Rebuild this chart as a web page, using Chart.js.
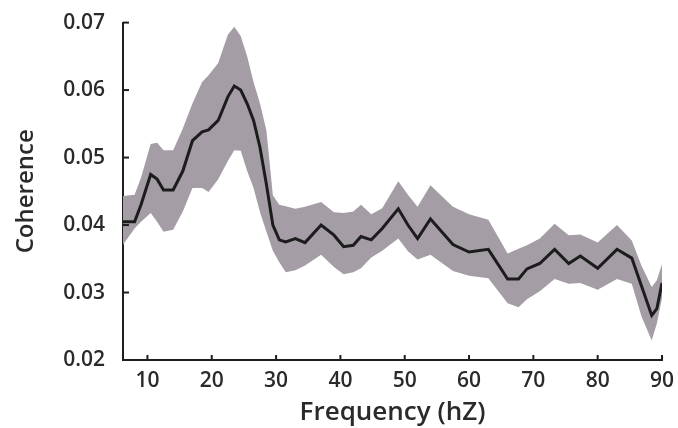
<!DOCTYPE html>
<html>
<head>
<meta charset="utf-8">
<script src="https://cdn.jsdelivr.net/npm/chart.js@4.4.1/dist/chart.umd.min.js"></script>
<style>
  html, body { margin: 0; padding: 0; background: #fff; }
  #wrap { width: 678px; height: 428px; position: relative; }
</style>
</head>
<body>
<div id="wrap"><canvas id="grafico"></canvas></div>
<script>
const frequencias = [6, 8, 9, 10.5, 11.5, 12.5, 14, 15.5, 17, 18.5, 19.5, 21, 22.5, 23.5, 24.5, 25.5, 26.5, 27.5, 28.5, 29.5,
    30.5, 31.5, 33, 34.5, 37, 39, 40.5, 42, 43.2, 44.8, 46.5, 49, 50.5, 52, 54, 57.5, 60, 63, 66, 67.7,
    69, 71, 73.3, 75.5, 77.3, 80, 83, 85.3, 86.8, 88.4, 89.2, 90];

const media = [.0405, .0405, .0430, .0475, .0468, .0452, .0452, .0480, .0525, .0538, .0541, .0555, .0590, .0606, .0600, .0580, .0555, .0515, .0460, .0400,
    .0378, .0375, .0380, .0374, .0400, .0385, .0368, .0370, .0383, .0378, .0395, .0424, .0400, .0380, .0409, .0371, .0360, .0364, .0320, .0320,
    .0335, .0343, .0364, .0343, .0354, .0336, .0364, .0351, .0310, .0266, .0276, .0314];

const superior = [.0443, .0445, .0470, .0520, .0522, .0511, .0511, .0543, .0580, .0612, .0622, .0640, .0682, .0694, .0680, .0650, .0612, .0580, .0540, .0444,
    .0430, .0428, .0424, .0427, .0434, .0419, .0418, .0420, .0430, .0416, .0425, .0465, .0445, .0427, .0459, .0427, .0416, .0408, .0358, .0365,
    .0370, .0380, .0402, .0385, .0386, .0374, .0400, .0377, .0340, .0308, .0318, .0342];

const inferior = [.0368, .0395, .0405, .0418, .0405, .0390, .0393, .0420, .0455, .0455, .0449, .0468, .0495, .0511, .0510, .0480, .0455, .0419, .0390, .0362,
    .0345, .0330, .0333, .0340, .0356, .0338, .0327, .0330, .0336, .0352, .0362, .0380, .0361, .0349, .0356, .0332, .0325, .0321, .0284, .0278,
    .0290, .0302, .0320, .0313, .0314, .0304, .0320, .0313, .0265, .0229, .0254, .0292];

const ticksX = [10, 20, 30, 40, 50, 60, 70, 80, 90];
const ticksY = [0.02, 0.03, 0.04, 0.05, 0.06, 0.07];

const pontos = (valores) => frequencias.map((f, i) => ({ x: f, y: valores[i] }));

const corTexto = "#2a2a2a";

// ticks pointing into the plot, like the original figure
const ticksInternos = {
    id: "ticksInternos",
    afterDraw(chart) {
        const ctx = chart.ctx;
        const sx = chart.scales.x;
        const sy = chart.scales.y;
        ctx.save();
        ctx.strokeStyle = "#1e1e1e";
        ctx.lineWidth = 2;
        for (const t of ticksX) {
            const px = sx.getPixelForValue(t);
            ctx.beginPath();
            ctx.moveTo(px, sy.bottom);
            ctx.lineTo(px, sy.bottom - 5);
            ctx.stroke();
        }
        for (const t of ticksY) {
            const py = sy.getPixelForValue(t);
            ctx.beginPath();
            ctx.moveTo(sx.left, py);
            ctx.lineTo(sx.left + 6, py);
            ctx.stroke();
        }
        ctx.restore();
    }
};

new Chart(document.getElementById("grafico"), {
    type: "line",
    data: {
        datasets: [
            {
                label: "superior",
                data: pontos(superior),
                borderWidth: 0,
                pointRadius: 0,
                backgroundColor: "rgb(164, 157, 166)",
                fill: "+1",
                order: 2,
            },
            {
                label: "inferior",
                data: pontos(inferior),
                borderWidth: 0,
                pointRadius: 0,
                fill: false,
                order: 2,
            },
            {
                label: "Coherence",
                data: pontos(media),
                borderColor: "#1c1c1c",
                borderWidth: 3,
                pointRadius: 0,
                fill: false,
                tension: 0,
                order: 1,
            },
        ],
    },
    options: {
        responsive: true,
        maintainAspectRatio: false,
        animation: false,
        layout: { padding: { top: 18, right: 16, left: 12, bottom: 0 } },
        plugins: { legend: { display: false }, tooltip: { enabled: false } },
        scales: {
            x: {
                type: "linear",
                min: 6.2,
                max: 90,
                afterBuildTicks: (scale) => { scale.ticks = ticksX.map((v) => ({ value: v })); },
                afterFit: (scale) => { scale.height = 68; },
                grid: { display: false, drawOnChartArea: false },
                border: { display: true, color: "#1e1e1e", width: 2 },
                ticks: {
                    color: corTexto,
                    font: { family: "Open Sans", size: 21, weight: "600" },
                    padding: 0,
                    maxRotation: 0,
                },
                title: {
                    display: true,
                    text: "Frequency (hZ)",
                    color: corTexto,
                    font: { family: "Open Sans", size: 26, weight: "600" },
                    padding: { top: -4, bottom: 0 },
                },
            },
            y: {
                min: 0.02,
                max: 0.07,
                afterBuildTicks: (scale) => { scale.ticks = ticksY.map((v) => ({ value: v })); },
                afterFit: (scale) => { scale.width = 111; },
                grid: { display: false, drawOnChartArea: false },
                border: { display: true, color: "#1e1e1e", width: 2 },
                ticks: {
                    color: corTexto,
                    font: { family: "Open Sans", size: 21, weight: "600" },
                    padding: 10,
                    callback: (v) => v.toFixed(2),
                },
                title: {
                    display: true,
                    text: "Coherence",
                    color: corTexto,
                    font: { family: "Open Sans", size: 24, weight: "600" },
                    padding: { top: 0, bottom: 4 },
                },
            },
        },
    },
    plugins: [ticksInternos],
});
</script>
</body>
</html>
